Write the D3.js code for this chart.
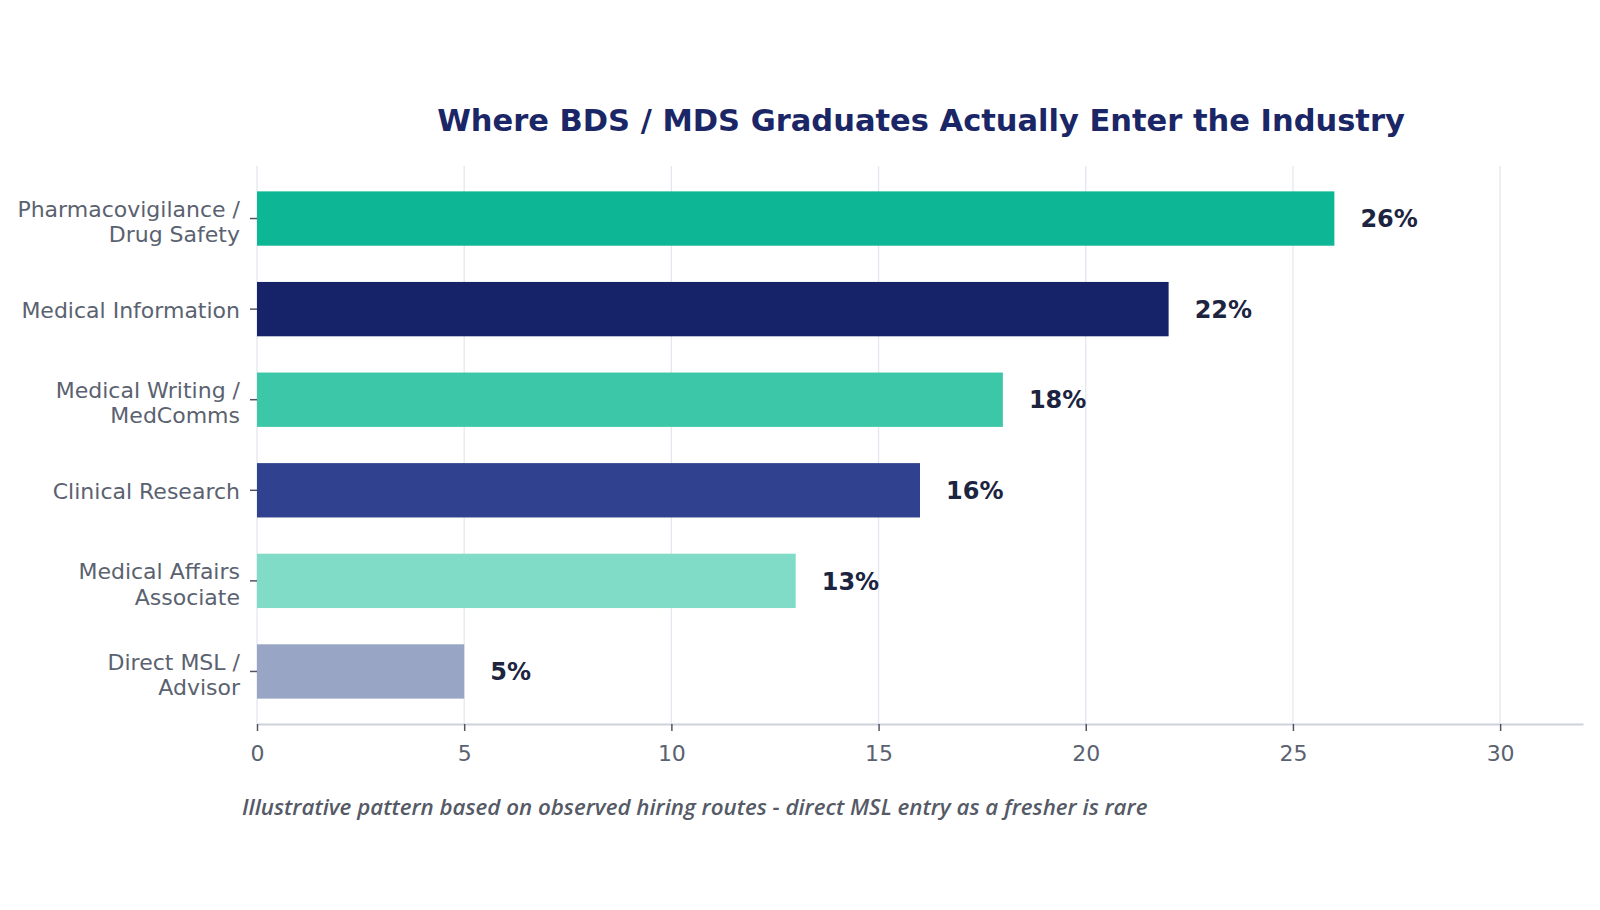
<!DOCTYPE html>
<html>
<head>
<meta charset="utf-8">
<script src="https://cdn.jsdelivr.net/npm/d3@7"></script>
<style>
  body { margin: 0; background: #fff; }
  svg { display: block; }
</style>
</head>
<body>
<div id="chart"></div>
<script>
// data
const categories = [
  ["Pharmacovigilance /", "Drug Safety"],
  ["Medical Information"],
  ["Medical Writing /", "MedComms"],
  ["Clinical Research"],
  ["Medical Affairs", "Associate"],
  ["Direct MSL /", "Advisor"]
];
const values = [26, 22, 18, 16, 13, 5];
const barColors = ["#0db795", "#172368", "#3cc8a8", "#2f418f", "#80dcc7", "#99a5c4"];
const xTicks = [0, 5, 10, 15, 20, 25, 30];

const W = 1600, H = 910;
const plot = { left: 257, right: 1583, top: 166, bottom: 724 };

const svg = d3.select("#chart").append("svg")
    .attr("width", W)
    .attr("height", H);

const x = d3.scaleLinear()
    .domain([0, 32])
    .range([plot.left, plot.right]);

const y = d3.scaleBand()
    .domain(d3.range(categories.length))
    .range([plot.top, plot.bottom])
    .paddingInner(0.4)
    .paddingOuter(0.28);

// vertical grid
svg.append("g")
    .selectAll("line")
    .data(xTicks)
    .enter().append("line")
    .attr("x1", d => x(d)).attr("x2", d => x(d))
    .attr("y1", plot.top).attr("y2", plot.bottom)
    .attr("stroke", "#e4e7ee")
    .attr("stroke-width", 1.3);

// bars
svg.append("g")
    .selectAll("rect")
    .data(values)
    .enter().append("rect")
    .attr("x", x(0))
    .attr("y", (d, i) => y(i))
    .attr("width", d => x(d) - x(0))
    .attr("height", y.bandwidth())
    .attr("fill", (d, i) => barColors[i]);

// value labels
svg.append("g")
    .selectAll("text")
    .data(values)
    .enter().append("text")
    .attr("x", d => x(d) + 26)
    .attr("y", (d, i) => y(i) + y.bandwidth() / 2)
    .attr("dy", "0.36em")
    .attr("font-family", "DejaVu Sans")
    .attr("font-weight", "bold")
    .attr("font-size", 24)
    .attr("fill", "#1c2440")
    .text(d => d + "%");

// x axis
const xAxis = d3.axisBottom(x)
    .tickValues(xTicks)
    .tickSize(7)
    .tickPadding(14)
    .tickSizeOuter(0);

const gx = svg.append("g")
    .attr("transform", "translate(0," + plot.bottom + ")")
    .call(xAxis);
gx.select(".domain").attr("stroke", "#cdd2dc").attr("stroke-width", 2);
gx.selectAll(".tick line").attr("stroke", "#4f5663").attr("stroke-width", 1.5);
gx.selectAll(".tick text")
    .attr("font-family", "DejaVu Sans")
    .attr("font-size", 22)
    .attr("fill", "#5a6270");

// y tick marks + labels
const gy = svg.append("g");
categories.forEach((lines, i) => {
    const cy = y(i) + y.bandwidth() / 2;
    gy.append("line")
        .attr("x1", plot.left - 7).attr("x2", plot.left)
        .attr("y1", cy).attr("y2", cy)
        .attr("stroke", "#4f5663")
        .attr("stroke-width", 1.5);
    const t = gy.append("text")
        .attr("x", plot.left - 17)
        .attr("y", cy)
        .attr("text-anchor", "end")
        .attr("font-family", "DejaVu Sans")
        .attr("font-size", 22)
        .attr("fill", "#5a6270");
    const lh = 25.5;
    const off = lines.length > 1 ? 3 : 1;
    lines.forEach((s, k) => {
        t.append("tspan")
            .attr("x", plot.left - 17)
            .attr("y", cy + off + (k - (lines.length - 1) / 2) * lh)
            .attr("dy", "0.36em")
            .text(s);
    });
});

// title
svg.append("text")
    .attr("x", 921)
    .attr("y", 120)
    .attr("dy", "0.36em")
    .attr("text-anchor", "middle")
    .attr("font-family", "DejaVu Sans")
    .attr("font-weight", "bold")
    .attr("font-size", 30.5)
    .attr("fill", "#1a2666")
    .text("Where BDS / MDS Graduates Actually Enter the Industry");

// footnote
svg.append("text")
    .attr("x", 242)
    .attr("y", 807)
    .attr("dy", "0.36em")
    .attr("font-family", "Open Sans")
    .attr("font-style", "italic")
    .attr("font-weight", 600)
    .attr("font-size", 22.3)
    .attr("fill", "#555a66")
    .text("Illustrative pattern based on observed hiring routes - direct MSL entry as a fresher is rare");
</script>
</body>
</html>
